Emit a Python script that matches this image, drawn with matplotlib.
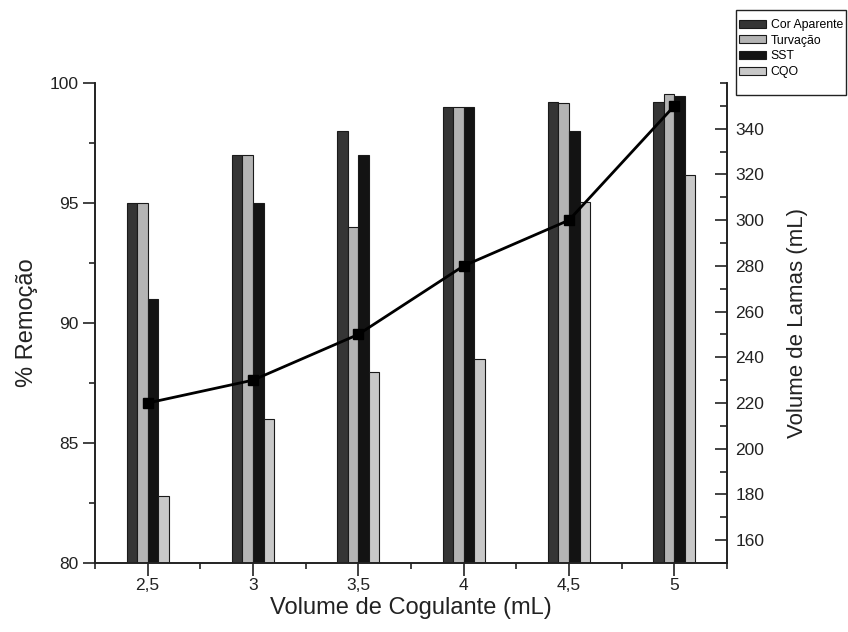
import numpy as np
import matplotlib
matplotlib.use('Agg')
import matplotlib.pyplot as plt
from matplotlib.patches import Rectangle
from matplotlib.ticker import MultipleLocator

plt.rcParams['font.family'] = ['Liberation Sans', 'DejaVu Sans']

# data
volumes = [2.5, 3.0, 3.5, 4.0, 4.5, 5.0]
tick_labels = ['2,5', '3', '3,5', '4', '4,5', '5']
series_names = ['Cor Aparente', 'Turvação', 'SST', 'CQO']
cor_aparente = [95.0, 97.0, 98.0, 99.0, 99.2, 99.2]
turvacao = [95.0, 97.0, 94.0, 99.0, 99.17, 99.55]
sst = [91.0, 95.0, 97.0, 99.0, 97.98, 99.44]
cqo = [82.8, 86.0, 87.95, 88.5, 95.03, 96.17]
lamas = [220, 230, 250, 280, 300, 350]

colors = ['#353535', '#b4b4b4', '#131313', '#c8c8c8']
bar_w = 0.05

fig = plt.figure(figsize=(8.48, 6.32), dpi=100)
ax = fig.add_axes([95/848, 1-563/632, 632/848, 480/632])
ax2 = ax.twinx()

x = np.array(volumes)
handles = []
for i, vals in enumerate([cor_aparente, turvacao, sst, cqo]):
    b = ax.bar(x + (i - 1.5) * bar_w, vals, width=bar_w, color=colors[i],
               edgecolor='#1a1a1a', linewidth=0.8, label=series_names[i])
    handles.append(b)

ax.set_xlim(2.25, 5.25)
ax.set_ylim(80, 100)
ax2.set_ylim(150, 360)

ax2.plot(x, lamas, color='black', lw=2, marker='s', markersize=7)

# ticks
ax.set_xticks(volumes)
ax.set_xticklabels(tick_labels)
ax.xaxis.set_minor_locator(MultipleLocator(0.25))
ax.yaxis.set_major_locator(MultipleLocator(5))
ax.yaxis.set_minor_locator(MultipleLocator(2.5))
ax2.yaxis.set_minor_locator(MultipleLocator(10))
ax2.set_yticks(np.arange(160, 341, 20))

tc = '#222222'
ax.tick_params(axis='both', which='major', direction='out', length=9, width=1.2,
               labelsize=12.5, colors=tc, pad=3)
ax.tick_params(axis='x', which='major', pad=2)
ax.tick_params(axis='both', which='minor', direction='out', length=4.5, width=1.2, colors=tc)
ax2.tick_params(axis='y', which='major', direction='in', length=9, width=1.2,
                labelsize=12.5, colors=tc, pad=6)
ax2.tick_params(axis='y', which='minor', direction='in', length=5, width=1.2, colors=tc)

for a in (ax, ax2):
    a.spines['top'].set_visible(False)
    for s in a.spines.values():
        s.set_linewidth(1.2)
        s.set_color(tc)

ax.set_xlabel('Volume de Cogulante (mL)', fontsize=17, color=tc, labelpad=3)
ax.set_ylabel('% Remoção', fontsize=17, color=tc, labelpad=8)
ax2.set_ylabel('Volume de Lamas (mL)', fontsize=16, color=tc, labelpad=16)

# legend outside, with its own box
fig.legend(handles, series_names, loc='upper left',
           bbox_to_anchor=(739/848, 1-19/632), frameon=False, fontsize=8.8,
           handlelength=2.2, handleheight=0.66, handletextpad=0.4,
           labelspacing=0.3, borderpad=0, borderaxespad=0)
fig.patches.append(Rectangle((736/848, 1-95/632), 110/848, 85/632,
                             transform=fig.transFigure, fill=False,
                             edgecolor='#222222', linewidth=1))

fig.savefig('out.png', dpi=100)
